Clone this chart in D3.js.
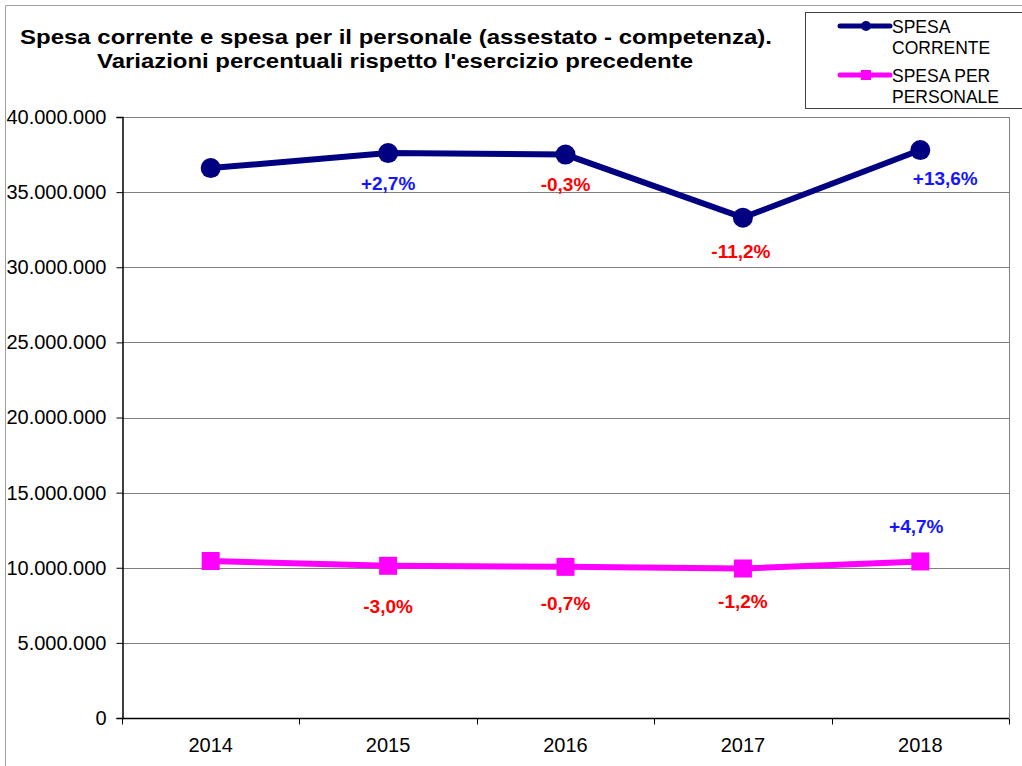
<!DOCTYPE html>
<html>
<head>
<meta charset="utf-8">
<script src="https://cdn.jsdelivr.net/npm/d3@7"></script>
<style>
  body { margin: 0; background: #fff; }
  svg { font-family: Arial, "Liberation Sans", sans-serif; }
</style>
</head>
<body>
<svg width="1022" height="766"></svg>
<script>
// data
let years = ['2014', '2015', '2016', '2017', '2018'];
let spesaCorrente = [36600000, 37600000, 37500000, 33300000, 37800000];
let spesaPersonale = [10450000, 10130000, 10060000, 9950000, 10420000];
let labelsCorrente = [null, '+2,7%', '-0,3%', '-11,2%', '+13,6%'];
let labelsPersonale = [null, '-3,0%', '-0,7%', '-1,2%', '+4,7%'];
let yTicks = [0, 5000000, 10000000, 15000000, 20000000, 25000000, 30000000, 35000000, 40000000];

let margin = {left: 122, top: 117, right: 1009, bottom: 718};
let svg = d3.select('svg');

// outer frame
svg.append('path')
    .attr('d', 'M5.5,766 V5.5 H1022')
    .attr('fill', 'none')
    .attr('stroke', '#a0a0a0')
    .attr('stroke-width', 1);

let xScale = d3.scaleBand()
    .domain(years)
    .range([margin.left, margin.right]);
let yScale = d3.scaleLinear()
    .domain([0, 40000000])
    .range([margin.bottom, margin.top]);

let fmt = d => d3.format(',')(d).replace(/,/g, '.');

// gridlines
svg.append('g')
    .selectAll('line')
    .data(yTicks.filter(d => d > 0))
    .enter().append('line')
    .attr('x1', margin.left)
    .attr('x2', margin.right)
    .attr('y1', d => Math.round(yScale(d)) + 0.5)
    .attr('y2', d => Math.round(yScale(d)) + 0.5)
    .attr('stroke', '#808080')
    .attr('stroke-width', 1);

// right border
svg.append('line')
    .attr('x1', margin.right + 0.5).attr('x2', margin.right + 0.5)
    .attr('y1', margin.top).attr('y2', margin.bottom)
    .attr('stroke', '#808080');

// y axis
let yAxis = d3.axisLeft(yScale)
    .tickValues(yTicks)
    .tickSize(6)
    .tickPadding(10)
    .tickFormat(fmt);
let yg = svg.append('g')
    .attr('transform', 'translate(' + (margin.left + 0.5) + ',0)')
    .call(yAxis);
yg.select('.domain').attr('stroke', '#000').attr('stroke-width', 1.5);
yg.selectAll('.tick line').attr('stroke', '#000');
yg.selectAll('text').style('font-size', '20px').attr('fill', '#000');

// x axis with ticks at category boundaries
let xg = svg.append('g')
    .attr('transform', 'translate(0,' + (margin.bottom + 0.5) + ')');
xg.append('line')
    .attr('x1', margin.left).attr('x2', margin.right)
    .attr('stroke', '#000').attr('stroke-width', 1.5);
let bounds = years.map(d => xScale(d)).concat([xScale.range()[1]]);
xg.selectAll('.xtick')
    .data(bounds)
    .enter().append('line')
    .attr('class', 'xtick')
    .attr('x1', d => Math.round(d) + 0.5).attr('x2', d => Math.round(d) + 0.5)
    .attr('y1', 0).attr('y2', 6)
    .attr('stroke', '#000');
xg.selectAll('.xlabel')
    .data(years)
    .enter().append('text')
    .attr('class', 'xlabel')
    .attr('x', d => xScale(d) + xScale.bandwidth() / 2)
    .attr('y', 33)
    .attr('text-anchor', 'middle')
    .style('font-size', '20px')
    .text(d => d);

let cx = (d, i) => xScale(years[i]) + xScale.bandwidth() / 2;

// spesa corrente line
let line = d3.line()
    .x((d, i) => cx(d, i))
    .y(d => yScale(d));
svg.append('path')
    .datum(spesaCorrente)
    .attr('d', line)
    .attr('fill', 'none')
    .attr('stroke', '#000080')
    .attr('stroke-width', 6);
svg.selectAll('.dot')
    .data(spesaCorrente)
    .enter().append('circle')
    .attr('class', 'dot')
    .attr('cx', cx)
    .attr('cy', d => yScale(d))
    .attr('r', 10)
    .attr('fill', '#000080');

// spesa personale line
svg.append('path')
    .datum(spesaPersonale)
    .attr('d', line)
    .attr('fill', 'none')
    .attr('stroke', '#ff00ff')
    .attr('stroke-width', 6);
svg.selectAll('.sq')
    .data(spesaPersonale)
    .enter().append('rect')
    .attr('class', 'sq')
    .attr('x', (d, i) => cx(d, i) - 9)
    .attr('y', d => yScale(d) - 9)
    .attr('width', 18)
    .attr('height', 18)
    .attr('fill', '#ff00ff');

// percentage labels
let labColor = t => t.charAt(0) == '+' ? '#1515ff' : '#ff0000';
let offCorrente = [[0, 0], [0, 37], [0, 36], [-2, 40], [25, 35]];
let offPersonale = [[0, 0], [0, 47], [0, 43], [0, 39], [-4, -28]];
function addLabels(labels, values, offs) {
    let rows = labels.map((t, i) => ({t: t, i: i})).filter(d => d.t != null);
    svg.append('g').selectAll('text')
        .data(rows)
        .enter().append('text')
        .attr('x', d => cx(null, d.i) + offs[d.i][0])
        .attr('y', d => yScale(values[d.i]) + offs[d.i][1])
        .attr('text-anchor', 'middle')
        .style('font-size', '19px')
        .style('font-weight', 'bold')
        .attr('fill', d => labColor(d.t))
        .text(d => d.t);
}
addLabels(labelsCorrente, spesaCorrente, offCorrente);
addLabels(labelsPersonale, spesaPersonale, offPersonale);

// title (the original font is a bit wider than it is tall)
let title = svg.append('text')
    .attr('text-anchor', 'middle')
    .style('font-size', '21px')
    .style('font-weight', 'bold');
title.append('tspan').attr('x', 396).attr('y', 44)
    .attr('textLength', 752).attr('lengthAdjust', 'spacingAndGlyphs')
    .text('Spesa corrente e spesa per il personale (assestato - competenza).');
title.append('tspan').attr('x', 395).attr('y', 68)
    .attr('textLength', 596).attr('lengthAdjust', 'spacingAndGlyphs')
    .text("Variazioni percentuali rispetto l'esercizio precedente");

// legend
let legend = svg.append('g');
legend.append('rect')
    .attr('x', 805.5).attr('y', 12.5)
    .attr('width', 230).attr('height', 96)
    .attr('fill', '#fff')
    .attr('stroke', '#404040');
legend.append('line')
    .attr('x1', 840).attr('x2', 890).attr('y1', 26).attr('y2', 26)
    .attr('stroke', '#000080').attr('stroke-width', 5).attr('stroke-linecap', 'round');
legend.append('circle')
    .attr('cx', 866).attr('cy', 26).attr('r', 5).attr('fill', '#000080');
legend.append('line')
    .attr('x1', 840).attr('x2', 890).attr('y1', 75).attr('y2', 75)
    .attr('stroke', '#ff00ff').attr('stroke-width', 5).attr('stroke-linecap', 'round');
legend.append('rect')
    .attr('x', 861).attr('y', 70).attr('width', 10).attr('height', 10).attr('fill', '#ff00ff');
let legText = [['SPESA', 33], ['CORRENTE', 54], ['SPESA PER', 82], ['PERSONALE', 103]];
legend.selectAll('.lt')
    .data(legText)
    .enter().append('text')
    .attr('x', 892)
    .attr('y', d => d[1])
    .style('font-size', '17.5px')
    .text(d => d[0]);
</script>
</body>
</html>
